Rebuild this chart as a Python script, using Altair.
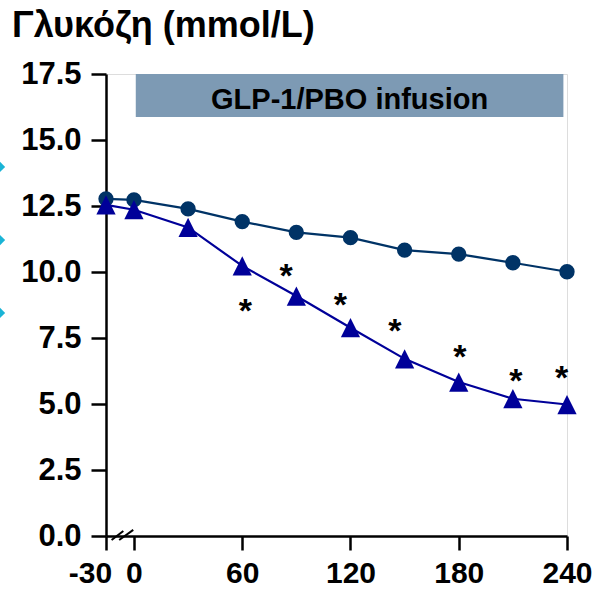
import altair as alt
import pandas as pd

# ---- data ----
times = [-30, 0, 30, 60, 90, 120, 150, 180, 210, 240]
placebo = [12.77, 12.73, 12.39, 11.91, 11.50, 11.30, 10.83, 10.68, 10.35, 10.01]
glp1 = [12.54, 12.36, 11.69, 10.23, 9.09, 7.89, 6.71, 5.83, 5.20, 4.98]

star_t = [61.7, 84.3, 114.4, 144.6, 180.6, 211.7, 237.0]
star_y = [8.84, 10.14, 9.06, 8.06, 7.07, 6.19, 6.29]

y_ticks = [0, 2.5, 5, 7.5, 10, 12.5, 15, 17.5]
x_tick_times = [-30, 0, 60, 120, 180, 240]

infusion_label = "GLP-1/PBO infusion"
infusion_start, infusion_end = 1, 238
infusion_low, infusion_high = 15.87, 17.5

bullet_y = [13.98, 11.21, 8.45]

BREAK_POS = -15.5  # axis position of the -30 min sample (broken axis)


def pos(t):
    return BREAK_POS if t == -30 else t


FONT = "Liberation Sans"

df = pd.DataFrame({
    "t": [pos(t) for t in times] * 2,
    "v": placebo + glp1,
    "group": ["PBO"] * len(times) + ["GLP-1"] * len(times),
})
stars = pd.DataFrame({"t": star_t, "v": star_y})
bar = pd.DataFrame({"x": [infusion_start], "x2": [infusion_end],
                    "y": [infusion_low], "y2": [infusion_high],
                    "label": [infusion_label],
                    "xm": [(infusion_start + infusion_end) / 2], "ym": [16.17]})
breaks = pd.DataFrame({"x": [-12.4, -8.2], "x2": [-5.9, -0.4],
                       "y": [-0.15, -0.15], "y2": [0.19, 0.23]})
bullets = pd.DataFrame({"x": [-74.3] * 3, "y": bullet_y})

xscale = alt.Scale(domain=[BREAK_POS, 240], nice=False, zero=False)
yscale = alt.Scale(domain=[0, 17.5], nice=False)

xaxis = alt.Axis(
    values=[pos(t) for t in x_tick_times],
    labelExpr="datum.value < -1 ? '-30' : toString(datum.value)",
    labelOffset={"condition": {"test": "datum.value < -1", "value": -16}, "value": 0},
    title=None, grid=False, labelOverlap=False, labelFlush=False,
    labelFont=FONT, labelFontSize=30, labelFontWeight="bold", labelColor="black",
    labelPadding=8, tickSize=14, tickWidth=2.5, tickColor="black",
    domainColor="black", domainWidth=2.5,
)
yaxis = alt.Axis(
    values=y_ticks, format=".1f", title=None, grid=False,
    labelFont=FONT, labelFontSize=31, labelFontWeight="bold", labelColor="black",
    labelPadding=10, tickSize=15, tickWidth=2.5, tickColor="black",
    domainColor="black", domainWidth=2.5, labelFlush=False, labelOverlap=False,
)

X = alt.X("t:Q", scale=xscale, axis=xaxis)
Y = alt.Y("v:Q", scale=yscale, axis=yaxis)

colors = alt.Scale(domain=["PBO", "GLP-1"], range=["#003366", "#000099"])

rect = alt.Chart(bar).mark_rect(color="#7d9ab4").encode(
    x=alt.X("x:Q", scale=xscale), x2="x2", y=alt.Y("y:Q", scale=yscale), y2="y2")
rect_text = alt.Chart(bar).mark_text(
    font=FONT, fontSize=29, fontWeight="bold", color="black", baseline="alphabetic"
).encode(x=alt.X("xm:Q", scale=xscale), y=alt.Y("ym:Q", scale=yscale), text="label:N")

lines = alt.Chart(df).mark_line(strokeWidth=2.2).encode(
    x=X, y=Y, color=alt.Color("group:N", scale=colors, legend=None), detail="group:N")

circles = alt.Chart(df).transform_filter("datum.group == 'PBO'").mark_point(
    shape="circle", filled=True, size=235, opacity=1, color="#003366").encode(x=X, y=Y)
triangles = alt.Chart(df).transform_filter("datum.group == 'GLP-1'").mark_point(
    shape="M0,-1L1,1L-1,1Z", filled=True, size=370, opacity=1, color="#000099").encode(x=X, y=Y)

star_marks = alt.Chart(stars).mark_text(
    text="*", font=FONT, fontSize=34, fontWeight="bold", color="black",
    baseline="alphabetic", dy=19
).encode(x=alt.X("t:Q", scale=xscale), y=alt.Y("v:Q", scale=yscale))

break_marks = alt.Chart(breaks).mark_rule(color="black", strokeWidth=2).encode(
    x=alt.X("x:Q", scale=xscale), x2="x2", y=alt.Y("y:Q", scale=yscale), y2="y2")

bullet_marks = alt.Chart(bullets).mark_point(
    shape="diamond", filled=True, size=110, opacity=1, color="#1ab4d6").encode(
    x=alt.X("x:Q", scale=xscale), y=alt.Y("y:Q", scale=yscale))

chart = alt.layer(
    rect, rect_text, lines, circles, triangles, star_marks, break_marks, bullet_marks
).properties(
    width=461, height=462,
    title=alt.TitleParams(
        "Γλυκόζη (mmol/L)", anchor="start", frame="group", font=FONT,
        fontSize=36, fontWeight="bold", color="black", dx=-94, offset=13),
    autosize=alt.AutoSizeParams(type="none"),
    padding={"left": 106, "top": 74, "right": 33, "bottom": 56},
).configure_view(stroke=None).configure(background="white")

chart.save("out.html", embed_options={"renderer": "svg", "actions": False})
